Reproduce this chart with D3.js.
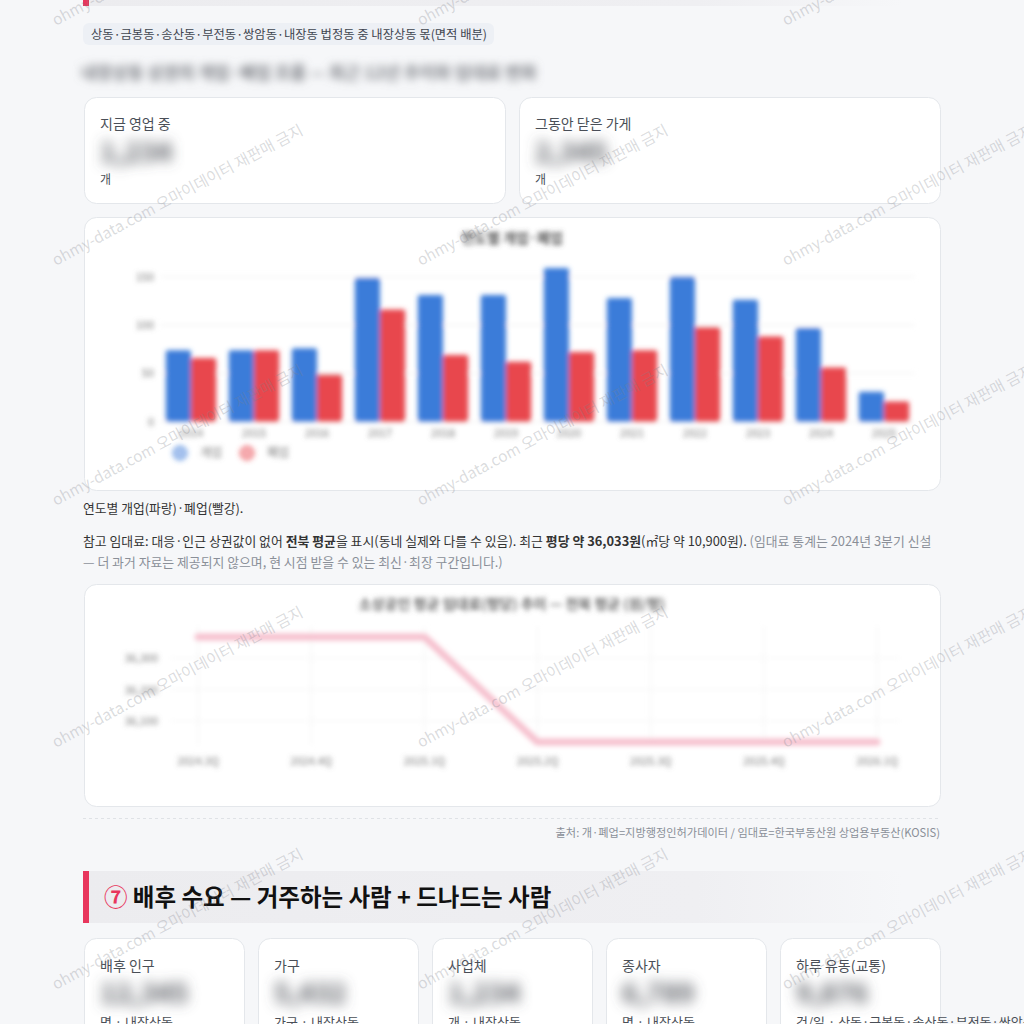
<!DOCTYPE html>
<html><head><meta charset="utf-8">
<script src="https://cdn.jsdelivr.net/npm/d3@7"></script>
<style>
html,body{margin:0;padding:0;background:#f6f7f9;overflow:hidden}
svg{display:block;font-family:"Noto Sans CJK KR","Noto Sans",sans-serif}
</style></head><body>
<svg id="s" width="1024" height="1024"></svg>
<script>
// ---- data ----
const years = ["2014","2015","2016","2017","2018","2019","2020","2021","2022","2023","2024","2025"];
const openings = [74,74,76,149,131,131,159,128,150,126,97,31];
const closures = [66,74,49,116,69,62,72,74,98,88,56,21];
const barTicks = [0,50,100,150];
const seriesNames = ["개업","폐업"];
const quarters = ["2024.3Q","2024.4Q","2025.1Q","2025.2Q","2025.3Q","2025.4Q","2026.1Q"];
const rent = [36367,36367,36367,36033,36033,36033,36033];
const rentTicks = [36100,36200,36300];
const statCards = [
  {label:"배후 인구", value:"12,345", sub:"명 · 내장상동"},
  {label:"가구", value:"5,432", sub:"가구 · 내장상동"},
  {label:"사업체", value:"1,234", sub:"개 · 내장상동"},
  {label:"종사자", value:"6,789", sub:"명 · 내장상동"},
  {label:"하루 유동(교통)", value:"9,876", sub:"건/일 · 상동·금봉동·송산동·부전동·쌍암동·내장동"}
];

const svg = d3.select("#s");
const defs = svg.append("defs");
function blur(id, sd){
  defs.append("filter").attr("id",id).attr("filterUnits","userSpaceOnUse")
    .attr("x",-100).attr("y",-100).attr("width",1300).attr("height",1300)
    .append("feGaussianBlur").attr("stdDeviation",sd);
}
blur("b2",2.8); blur("b4",4.5); blur("b5",6.5);
const g1 = defs.append("linearGradient").attr("id","hdr");
g1.append("stop").attr("offset","0").attr("stop-color","#ececef");
g1.append("stop").attr("offset","0.75").attr("stop-color","#efeff2");
g1.append("stop").attr("offset","1").attr("stop-color","#f6f7f9");

// background
svg.append("rect").attr("width",1024).attr("height",1024).attr("fill","#f6f7f9");

// top header remnant
svg.append("rect").attr("x",83).attr("y",-60).attr("width",820).attr("height",66).attr("fill","url(#hdr)");
svg.append("rect").attr("x",83).attr("y",-60).attr("width",6).attr("height",66).attr("fill","#e8365d");

// tag
svg.append("rect").attr("x",83).attr("y",23).attr("width",411).attr("height",22).attr("rx",6).attr("fill","#edf0f5");
svg.append("text").attr("x",91).attr("y",39).attr("font-size",12.3).attr("fill","#3f4550")
  .text("상동·금봉동·송산동·부전동·쌍암동·내장동 법정동 중 내장상동 몫(면적 배분)");

// blurred description
svg.append("text").attr("x",81).attr("y",79).attr("font-size",17).attr("font-weight",700).attr("fill","#7a7d83").attr("filter","url(#b4)")
  .text("내장상동 상권의 개업·폐업 흐름 — 최근 12년 추이와 임대료 변화");

function card(x,y,w,h){
  svg.append("rect").attr("x",x+0.5).attr("y",y+0.5).attr("width",w).attr("height",h).attr("rx",12)
    .attr("fill","#fff").attr("stroke","#e4e7eb");
}
// top stat cards
[["지금 영업 중",84,"1,234"],["그동안 닫은 가게",519,"2,345"]].forEach(([lab,x,v])=>{
  card(x,97,421,106);
  svg.append("text").attr("x",x+16).attr("y",129).attr("font-size",14).attr("fill","#4a4f57").text(lab);
  svg.append("text").attr("x",x+16).attr("y",162).attr("font-size",27).attr("font-weight",700).attr("fill","#55585f").attr("filter","url(#b5)").text(v);
  svg.append("text").attr("x",x+16).attr("y",184).attr("font-size",12).attr("fill","#4a4f57").text("개");
});

// ---- bar chart ----
card(84,217,856,273);
const bc = svg.append("g").attr("filter","url(#b2)");
const x0 = d3.scaleBand().domain(years).range([159.5,915.5]).paddingInner(0.2).paddingOuter(0.1);
const x1 = d3.scaleBand().domain(seriesNames).range([0,x0.bandwidth()]);
const y = d3.scaleLinear().domain([0,160]).range([421.7,267]);
const colors = {"개업":"#3b7bd9","폐업":"#e8474d"};
bc.append("text").attr("x",512).attr("y",243).attr("text-anchor","middle").attr("font-size",14).attr("font-weight",700).attr("fill","#555").text("연도별 개업·폐업");
bc.append("g").selectAll("line").data(barTicks).join("line")
  .attr("x1",160).attr("x2",915).attr("y1",d=>y(d)).attr("y2",d=>y(d)).attr("stroke","#ececec");
bc.append("g").selectAll("text").data(barTicks).join("text")
  .attr("x",154).attr("y",d=>y(d)+4).attr("text-anchor","end").attr("font-size",11).attr("fill","#777").text(d=>d);
const grp = bc.append("g").selectAll("g").data(years).join("g").attr("transform",d=>`translate(${x0(d)},0)`);
grp.selectAll("rect").data((d,i)=>[{k:"개업",v:openings[i]},{k:"폐업",v:closures[i]}]).join("rect")
  .attr("x",d=>x1(d.k)).attr("width",x1.bandwidth()).attr("y",d=>y(d.v)).attr("height",d=>y(0)-y(d.v))
  .attr("rx",2).attr("fill",d=>colors[d.k]);
bc.append("g").selectAll("text").data(years).join("text")
  .attr("x",d=>x0(d)+x0.bandwidth()/2).attr("y",437).attr("text-anchor","middle").attr("font-size",11).attr("fill","#777").text(d=>d);
const lg = bc.append("g");
seriesNames.forEach((n,i)=>{
  const lx = 180 + i*67;
  lg.append("circle").attr("cx",lx).attr("cy",453).attr("r",7).attr("fill",colors[n]).attr("fill-opacity",0.45).attr("stroke",colors[n]);
  lg.append("text").attr("x",lx+20).attr("y",457).attr("font-size",12).attr("fill","#777").text(n);
});

// notes
svg.append("text").attr("x",83).attr("y",513).attr("font-size",12.8).attr("fill","#333").text("연도별 개업(파랑)·폐업(빨강).");
const p1 = svg.append("text").attr("x",83).attr("y",546).attr("font-size",12.87).attr("fill","#333");
p1.append("tspan").text("참고 임대료: 대응·인근 상권값이 없어 ");
p1.append("tspan").attr("font-weight",700).text("전북 평균");
p1.append("tspan").text("을 표시(동네 실제와 다를 수 있음). 최근 ");
p1.append("tspan").attr("font-weight",700).text("평당 약 36,033원");
p1.append("tspan").text("(㎡당 약 10,900원). ");
p1.append("tspan").attr("fill","#8a8f98").text("(임대료 통계는 2024년 3분기 신설");
svg.append("text").attr("x",83).attr("y",567).attr("font-size",12.87).attr("fill","#8a8f98")
  .text("— 더 과거 자료는 제공되지 않으며, 현 시점 받을 수 있는 최신·최장 구간입니다.)");

// ---- line chart ----
card(84,584,856,222);
const lc = svg.append("g").attr("filter","url(#b2)");
const xl = d3.scalePoint().domain(quarters).range([198,877]);
const yl = d3.scaleLinear().domain([36000,36400]).range([752.5,626.5]);
lc.append("text").attr("x",512).attr("y",609).attr("text-anchor","middle").attr("font-size",14).attr("font-weight",700).attr("fill","#666").text("소상공인 평균 임대료(평당) 추이 — 전북 평균 (원/평)");
lc.append("g").selectAll("line").data(quarters).join("line")
  .attr("x1",d=>xl(d)).attr("x2",d=>xl(d)).attr("y1",626).attr("y2",745).attr("stroke","#f0f0f0");
lc.append("g").selectAll("line").data(rentTicks).join("line")
  .attr("x1",170).attr("x2",900).attr("y1",d=>yl(d)).attr("y2",d=>yl(d)).attr("stroke","#f3f3f3");
lc.append("g").selectAll("text").data(rentTicks).join("text")
  .attr("x",158).attr("y",d=>yl(d)+4).attr("text-anchor","end").attr("font-size",11).attr("fill","#777").text(d=>d3.format(",")(d));
lc.append("g").selectAll("text").data(quarters).join("text")
  .attr("x",d=>xl(d)).attr("y",765).attr("text-anchor","middle").attr("font-size",11).attr("fill","#777").text(d=>d);
lc.append("path").datum(rent).attr("fill","none").attr("stroke","#f6bfcd").attr("stroke-width",7)
  .attr("stroke-linejoin","round").attr("stroke-linecap","round")
  .attr("d",d3.line().x((d,i)=>xl(quarters[i])).y(d=>yl(d)));

// source
svg.append("line").attr("x1",83).attr("x2",940).attr("y1",818.5).attr("y2",818.5).attr("stroke","#dfe2e6").attr("stroke-dasharray","3,3");
svg.append("text").attr("x",940).attr("y",837).attr("text-anchor","end").attr("font-size",11.2).attr("fill","#8a8f98")
  .text("출처: 개·폐업=지방행정인허가데이터 / 임대료=한국부동산원 상업용부동산(KOSIS)");

// section header
svg.append("rect").attr("x",83).attr("y",871).attr("width",820).attr("height",52).attr("fill","url(#hdr)");
svg.append("rect").attr("x",83).attr("y",871).attr("width",6).attr("height",52).attr("fill","#e8365d");
const ht = svg.append("text").attr("x",104).attr("y",906).attr("font-size",23.5).attr("font-weight",700).attr("fill","#111");
ht.append("tspan").attr("fill","#e8365d").text("⑦");
ht.append("tspan").text(" 배후 수요 — 거주하는 사람 + 드나드는 사람");

// bottom cards
statCards.forEach((c,i)=>{
  const x = 84 + i*174;
  card(x,938,160,130);
  svg.append("text").attr("x",x+16).attr("y",971).attr("font-size",14).attr("fill","#4a4f57").text(c.label);
  svg.append("text").attr("x",x+16).attr("y",1003).attr("font-size",27).attr("font-weight",700).attr("fill","#55585f").attr("filter","url(#b5)").text(c.value);
  svg.append("text").attr("x",x+16).attr("y",1027).attr("font-size",13).attr("fill","#4a4f57").text(c.sub);
});

// watermarks
const wm = svg.append("g").attr("pointer-events","none");
[180,545,910].forEach(cx=>[-40,200,440,682,924].forEach(cy=>{
  wm.append("text").attr("transform",`translate(${cx},${cy}) rotate(-28)`).attr("text-anchor","middle")
    .attr("font-size",15.5).attr("fill","#7d8089").attr("fill-opacity",0.28)
    .text("ohmy-data.com 오마이데이터 재판매 금지");
}));
</script></body></html>
